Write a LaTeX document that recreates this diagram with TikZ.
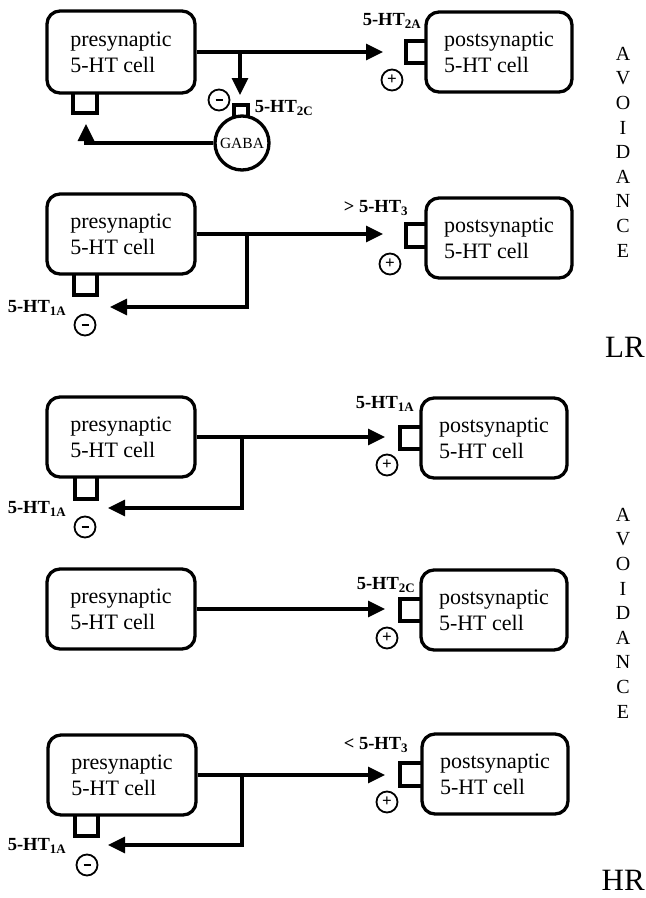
\documentclass[tikz,border=0pt]{standalone}
\usepackage{fontspec}
\setmainfont{Liberation Serif}
\usetikzlibrary{arrows.meta}
\newcommand{\minussign}{\rule{7pt}{2.4pt}}
\begin{document}
\begin{tikzpicture}[x=1pt,y=-1pt,
  cell/.style={draw,line width=3.3pt,rounded corners=13pt,inner sep=0pt,align=left,
    minimum height=80pt,font=\fontsize{22}{26}\selectfont},
  precell/.style={cell,minimum width=148pt},
  postcell/.style={cell,minimum width=146pt},
  link/.style={line width=3.3pt},
  arr/.style={link,-{Triangle[length=17pt,width=16pt]}},
  rcp/.style={line width=3.3pt},
  sign/.style={draw,circle,line width=1.8pt,minimum size=21pt,inner sep=0pt,
    font=\fontsize{17}{17}\selectfont\bfseries},
  lab/.style={font=\fontsize{18.5}{18.5}\selectfont\bfseries,inner sep=0pt},
  side/.style={align=center,font=\fontsize{20}{24.6}\selectfont,inner sep=0pt},
  grp/.style={font=\fontsize{31}{31}\selectfont,inner sep=0pt}]
\useasboundingbox (0,0) rectangle (646,898);

% ---------------- panel 1 ----------------
\node[precell,minimum height=82pt] (pre1) at (121,52) {presynaptic\\5-HT cell};
\node[postcell] (post1) at (499,52) {postsynaptic\\5-HT cell};
\coordinate (t1) at (383,52);
\coordinate (b1) at (240,52);
\coordinate (d1) at (240,95);
\coordinate (u1) at (86,124);
\draw[arr] (pre1) -- (t1);
\draw[arr] (b1) -- (d1);
\node[draw,circle,line width=3.3pt,minimum size=54pt,inner sep=0pt,
  font=\fontsize{15.5}{15.5}\selectfont] (gaba) at (242,143) {GABA};
\draw[rcp] (234,116) -- (234,105) -- (248,105) -- (248,116);
\draw[arr] (gaba.west) -| (u1);
\draw[rcp] (73,93) -- (73,113) -- (97,113) -- (97,93);
\draw[rcp] (426,41) -- (406,41) -- (406,63) -- (426,63);
\node[sign] (m1) at (219,100) {\minussign};
\node[lab] (l1b) at (284,108) {5-HT\textsubscript{2C}};
\node[lab] (l1a) at (392,21) {5-HT\textsubscript{2A}};
\node[sign] (p1) at (392,80) {+};

% ---------------- panel 2 ----------------
\node[precell] (pre2) at (121,234) {presynaptic\\5-HT cell};
\node[postcell] (post2) at (499,238) {postsynaptic\\5-HT cell};
\coordinate (t2) at (383,234);
\coordinate (br2) at (247,234);
\coordinate (k2) at (110,307);
\draw[arr] (pre2) -- (t2);
\draw[arr] (br2) |- (k2);
\draw[rcp] (74,274) -- (74,295) -- (97,295) -- (97,274);
\draw[rcp] (426,224) -- (406,224) -- (406,247) -- (426,247);
\node[lab] (l2a) at (37,308) {5-HT\textsubscript{1A}};
\node[sign] (m2) at (85,325) {\minussign};
\node[lab] (l2b) at (376,208) {> 5-HT\textsubscript{3}};
\node[sign] (p2) at (390,264) {+};

\node[side] (av1) at (623,152) {A\\V\\O\\I\\D\\A\\N\\C\\E};
\node[grp,anchor=base east] (lr) at (645,357) {LR};

% ---------------- panel 3 ----------------
\node[precell] (pre3) at (121,437) {presynaptic\\5-HT cell};
\node[postcell] (post3) at (494,438) {postsynaptic\\5-HT cell};
\coordinate (t3) at (385,437);
\coordinate (br3) at (242,437);
\coordinate (k3) at (108,508);
\draw[arr] (pre3) -- (t3);
\draw[arr] (br3) |- (k3);
\draw[rcp] (75,477) -- (75,499) -- (97,499) -- (97,477);
\draw[rcp] (421,427) -- (400,427) -- (400,449) -- (421,449);
\node[lab] (l3a) at (37,509) {5-HT\textsubscript{1A}};
\node[sign] (m3) at (85,527) {\minussign};
\node[lab] (l3b) at (385,404) {5-HT\textsubscript{1A}};
\node[sign] (p3) at (387,465) {+};

% ---------------- panel 4 ----------------
\node[precell] (pre4) at (121,609) {presynaptic\\5-HT cell};
\node[postcell] (post4) at (494,610) {postsynaptic\\5-HT cell};
\coordinate (t4) at (385,609);
\draw[arr] (pre4) -- (t4);
\draw[rcp] (421,599) -- (400,599) -- (400,621) -- (421,621);
\node[lab] (l4b) at (386,585) {5-HT\textsubscript{2C}};
\node[sign] (p4) at (387,638) {+};

\node[side] (av2) at (623,613) {A\\V\\O\\I\\D\\A\\N\\C\\E};

% ---------------- panel 5 ----------------
\node[precell] (pre5) at (122,775) {presynaptic\\5-HT cell};
\node[postcell] (post5) at (495,774) {postsynaptic\\5-HT cell};
\coordinate (t5) at (385,775);
\coordinate (br5) at (242,775);
\coordinate (k5) at (108,845);
\draw[arr] (pre5) -- (t5);
\draw[arr] (br5) |- (k5);
\draw[rcp] (75,815) -- (75,836) -- (98,836) -- (98,815);
\draw[rcp] (422,763) -- (400,763) -- (400,786) -- (422,786);
\node[lab] (l5a) at (37,846) {5-HT\textsubscript{1A}};
\node[sign] (m5) at (87,865) {\minussign};
\node[lab] (l5b) at (376,745) {< 5-HT\textsubscript{3}};
\node[sign] (p5) at (387,802) {+};

\node[grp,anchor=base east] (hr) at (645,890) {HR};
\end{tikzpicture}
\end{document}
